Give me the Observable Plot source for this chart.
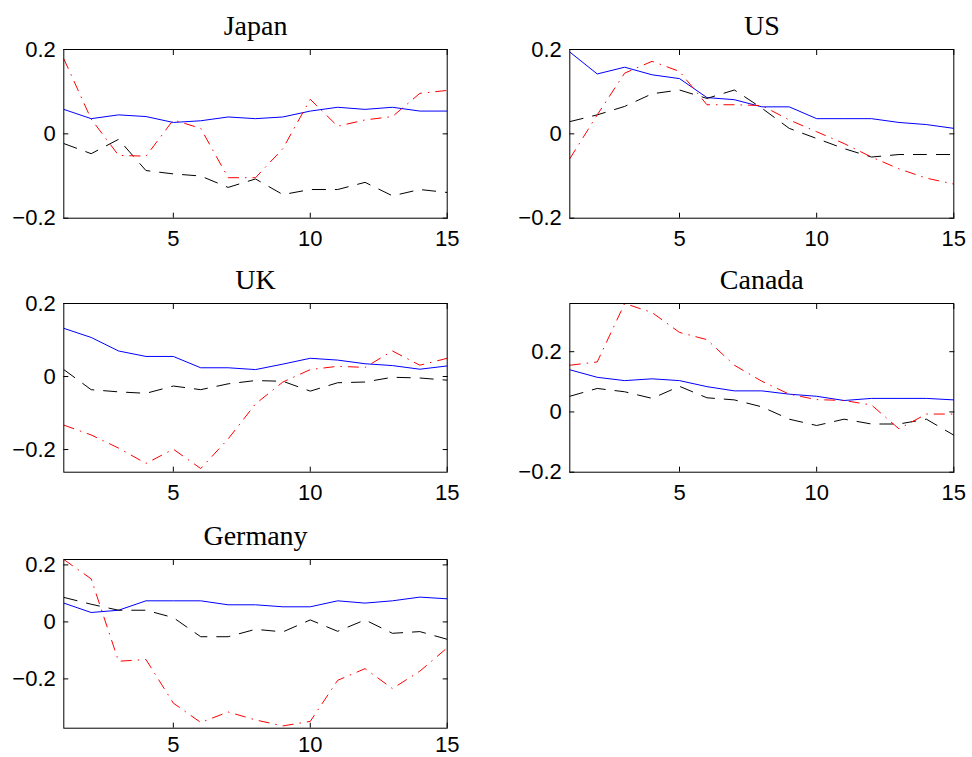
<!DOCTYPE html>
<html><head><meta charset="utf-8">
<script src="https://cdn.jsdelivr.net/npm/d3@7"></script>
<script src="https://cdn.jsdelivr.net/npm/@observablehq/plot@0.6"></script>
<style>
html,body{margin:0;padding:0;background:#fff;}
#fig{position:relative;width:972px;height:757px;background:#fff;overflow:hidden;}
#fig svg{position:absolute;overflow:visible;max-width:none;}
</style></head><body><div id="fig"></div>
<script>
// Horizons
const horizon = [1,2,3,4,5,6,7,8,9,10,11,12,13,14,15];
const xTickValues = [5,10,15];
const yTickValues = [-0.2, 0, 0.2];
const yTickLabels = ["\u22120.2", "0", "0.2"];
const countries = ["Japan", "US", "UK", "Canada", "Germany"];

// Japan
const japanSolid   = [0.058,0.036,0.045,0.041,0.027,0.031,0.040,0.036,0.040,0.054,0.063,0.058,0.063,0.054,0.054];
const japanDashed  = [-0.023,-0.047,-0.013,-0.087,-0.095,-0.100,-0.127,-0.107,-0.144,-0.132,-0.132,-0.115,-0.147,-0.132,-0.139];
const japanDashDot = [0.178,0.035,-0.051,-0.053,0.033,0.013,-0.104,-0.104,-0.035,0.082,0.018,0.033,0.041,0.096,0.103];
// US
const usSolid   = [0.194,0.142,0.158,0.140,0.131,0.086,0.081,0.064,0.064,0.036,0.036,0.036,0.027,0.022,0.013];
const usDashed  = [0.029,0.045,0.065,0.095,0.104,0.084,0.104,0.061,0.013,-0.011,-0.035,-0.055,-0.049,-0.049,-0.049];
const usDashDot = [-0.059,0.045,0.144,0.172,0.148,0.069,0.069,0.067,0.033,0.005,-0.023,-0.055,-0.083,-0.105,-0.119];
// UK
const ukSolid   = [0.132,0.107,0.070,0.055,0.055,0.024,0.024,0.019,0.034,0.050,0.045,0.035,0.030,0.020,0.029];
const ukDashed  = [0.019,-0.036,-0.042,-0.046,-0.026,-0.036,-0.020,-0.011,-0.013,-0.040,-0.017,-0.015,-0.002,-0.004,-0.010];
const ukDashDot = [-0.133,-0.160,-0.196,-0.238,-0.199,-0.252,-0.171,-0.075,-0.015,0.019,0.028,0.025,0.070,0.031,0.050];
// Canada
const canadaSolid   = [0.140,0.115,0.104,0.110,0.104,0.084,0.070,0.070,0.059,0.052,0.038,0.045,0.045,0.045,0.040];
const canadaDashed  = [0.052,0.078,0.067,0.045,0.085,0.047,0.040,0.017,-0.024,-0.045,-0.024,-0.040,-0.040,-0.024,-0.077];
const canadaDashDot = [0.155,0.166,0.360,0.330,0.264,0.240,0.155,0.102,0.059,0.041,0.038,0.023,-0.056,-0.007,-0.007];
// Germany
const germanySolid   = [0.066,0.033,0.041,0.074,0.074,0.074,0.060,0.060,0.053,0.053,0.074,0.066,0.074,0.087,0.081];
const germanyDashed  = [0.086,0.062,0.041,0.041,0.015,-0.052,-0.052,-0.026,-0.035,0.007,-0.033,0.007,-0.040,-0.034,-0.061];
const germanyDashDot = [0.219,0.151,-0.138,-0.132,-0.285,-0.353,-0.316,-0.344,-0.365,-0.349,-0.205,-0.164,-0.234,-0.173,-0.091];

// Axis limits per panel
const yLimits = [[-0.2,0.2],[-0.2,0.2],[-0.262,0.2],[-0.2,0.36],[-0.373,0.219]];

const panels = [
  {title: countries[0], solid: japanSolid,   dashed: japanDashed,   dashdot: japanDashDot,   y: yLimits[0], col: 0, row: 0},
  {title: countries[1], solid: usSolid,      dashed: usDashed,      dashdot: usDashDot,      y: yLimits[1], col: 1, row: 0},
  {title: countries[2], solid: ukSolid,      dashed: ukDashed,      dashdot: ukDashDot,      y: yLimits[2], col: 0, row: 1},
  {title: countries[3], solid: canadaSolid,  dashed: canadaDashed,  dashdot: canadaDashDot,  y: yLimits[3], col: 1, row: 1},
  {title: countries[4], solid: germanySolid, dashed: germanyDashed, dashdot: germanyDashDot, y: yLimits[4], col: 0, row: 2}
];

const fig = document.getElementById("fig");
const colLeft = [0, 486];
const colMargins = [[63.3, 39.3], [83.3, 18.7]];
const rowTop = [0, 254, 510];
const rowXPadding = [17, 17, 13];

for (const p of panels) {
  const [ml, mr] = colMargins[p.col];
  const lineOpts = (arr, stroke, dash) => ({
    x: (d, i) => horizon[i], y: d => d, stroke, strokeWidth: 1,
    strokeDasharray: dash, strokeLinejoin: "miter", strokeLinecap: "butt"
  });
  const chart = Plot.plot({
    width: 486, height: 252,
    marginLeft: ml, marginRight: mr, marginTop: 49, marginBottom: 34.3,
    x: {domain: [1, 15], label: null},
    y: {domain: p.y, label: null},
    style: {fontFamily: "'Liberation Sans', Arial, Helvetica, sans-serif", fontSize: "22px", color: "black", background: "white", overflow: "visible"},
    marks: [
      Plot.line(p.solid, lineOpts(p.solid, "#0000ff", null)),
      Plot.line(p.dashed, lineOpts(p.dashed, "#000000", "14,9")),
      Plot.line(p.dashdot, lineOpts(p.dashdot, "#ff0000", "11,6,1.5,6")),
      Plot.frame({stroke: "black", strokeWidth: 1}),
      Plot.axisY({anchor: "left", ticks: yTickValues, tickSize: -5, tickPadding: 13,
        tickFormat: d => yTickLabels[yTickValues.indexOf(d)], label: null}),
      Plot.axisY({anchor: "right", ticks: yTickValues, tickSize: -5, fill: "none", label: null}),
      Plot.axisX({anchor: "bottom", ticks: xTickValues, tickSize: -5, tickPadding: rowXPadding[p.row],
        tickFormat: d => String(d), label: null}),
      Plot.axisX({anchor: "top", ticks: xTickValues, tickSize: -5, fill: "none", label: null}),
      Plot.text([p.title], {frameAnchor: "top", dy: -15, lineAnchor: "bottom",
        text: d => d, fontFamily: "'Liberation Serif', 'Times New Roman', serif", fontSize: 28, fill: "black"})
    ]
  });
  chart.style.left = colLeft[p.col] + "px";
  chart.style.top = rowTop[p.row] + "px";
  fig.appendChild(chart);
}
</script>
</body></html>
